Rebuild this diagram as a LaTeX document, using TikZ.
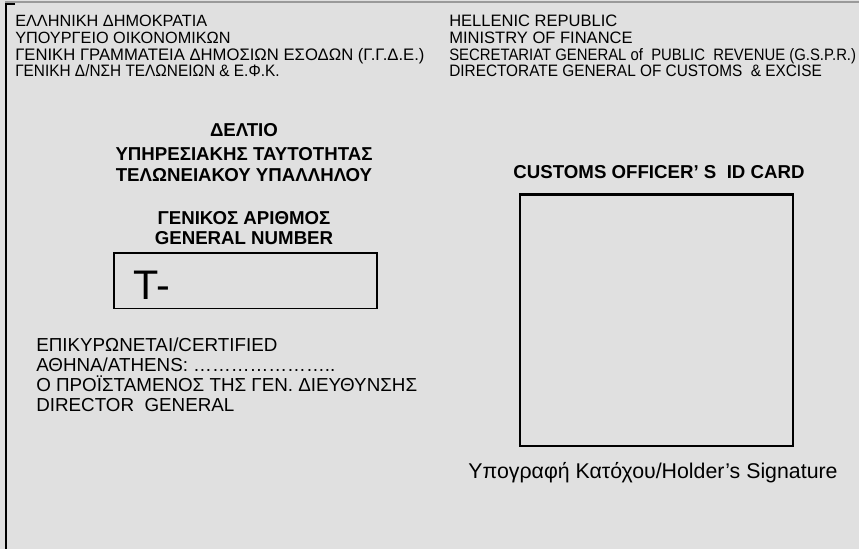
\documentclass[tikz,border=0pt]{standalone}
\usepackage{fontspec}
\setmainfont{Liberation Sans}
\newfontfamily\condsf[FakeStretch=0.93]{Liberation Sans}
\newfontfamily\narrowsf[FakeStretch=0.9]{Liberation Sans}

\definecolor{cardgray}{HTML}{E0E0E0}
\definecolor{edgegray}{HTML}{9A9A9A}

\begin{document}
\begin{tikzpicture}[x=0.75pt,y=0.75pt,yscale=-1,xscale=1,
    hdr/.style={anchor=base west,inner sep=0pt,font=\fontsize{12.4}{14}\selectfont},
    hdrcond/.style={anchor=base west,inner sep=0pt,font=\fontsize{12.4}{14}\condsf},
    ttl/.style={anchor=base,inner sep=0pt,font=\fontsize{14}{16}\selectfont\bfseries},
    body/.style={anchor=base west,inner sep=0pt,font=\fontsize{14.1}{16}\selectfont}]
        \useasboundingbox (0,0) rectangle (859,549);

        %Shape: Background
        \fill [cardgray] (0,0) rectangle (859,549);
        %Straight Lines [top edge]
        \draw [edgegray, line width=1.5]  (5,2) -- (859,2) ;
        %Straight Lines [left edge]
        \draw [line width=1.5]  (15,4.5) -- (5.5,4.5) -- (5.5,549) ;
        %Shape: Rectangle [general number]
        \draw [line width=1.2]  (114,253) -- (377,253) -- (377,308.5) -- (114,308.5) -- cycle ;
        %Shape: Rectangle [photo]
        \draw [line width=1.6]  (520,194.5) -- (793,194.5) -- (793,446) -- (520,446) -- cycle ;

        % Text Node
        \draw (15,27) node [hdr,font=\fontsize{12.2}{14}\selectfont] (grA) {ΕΛΛΗΝΙΚΗ ΔΗΜΟΚΡΑΤΙΑ};
        % Text Node
        \draw (15,44) node [hdr,font=\fontsize{12.2}{14}\selectfont] (grB) {ΥΠΟΥΡΓΕΙΟ ΟΙΚΟΝΟΜΙΚΩΝ};
        % Text Node
        \draw (15,61) node [hdr,font=\fontsize{12.5}{14}\selectfont] (grC) {ΓΕΝΙΚΗ ΓΡΑΜΜΑΤΕΙΑ ΔΗΜΟΣΙΩΝ ΕΣΟΔΩΝ (Γ.Γ.Δ.Ε.)};
        % Text Node
        \draw (15,77) node [hdrcond] (grD) {ΓΕΝΙΚΗ Δ/ΝΣΗ ΤΕΛΩΝΕΙΩΝ \& Ε.Φ.Κ.};
        % Text Node
        \draw (449,27) node [hdr] (enA) {HELLENIC REPUBLIC};
        % Text Node
        \draw (449,44) node [hdr] (enB) {MINISTRY OF FINANCE};
        % Text Node
        \draw (449,61) node [hdr,font=\fontsize{12.4}{14}\narrowsf] (enC) {SECRETARIAT GENERAL of\ \ PUBLIC\ \ REVENUE (G.S.P.R.)};
        % Text Node
        \draw (449,77) node [hdrcond] (enD) {DIRECTORATE GENERAL OF CUSTOMS\ \ \& EXCISE};

        % Text Node
        \draw (244,137) node [ttl] (deltio) {ΔΕΛΤΙΟ};
        % Text Node
        \draw (244,161) node [ttl] (ypires) {ΥΠΗΡΕΣΙΑΚΗΣ ΤΑΥΤΟΤΗΤΑΣ};
        % Text Node
        \draw (244,181) node [ttl] (telon) {ΤΕΛΩΝΕΙΑΚΟΥ ΥΠΑΛΛΗΛΟΥ};
        % Text Node
        \draw (244,224) node [ttl] (genGr) {ΓΕΝΙΚΟΣ ΑΡΙΘΜΟΣ};
        % Text Node
        \draw (244,244) node [ttl] (genEn) {GENERAL NUMBER};
        % Text Node
        \draw (133,299) node [anchor=base west,inner sep=0pt,font=\fontsize{31}{34}\selectfont] (tnum) {T-};
        % Text Node
        \draw (659,178) node [ttl] (cardTitle) {CUSTOMS OFFICER’ S\ \ ID CARD};

        % Text Node
        \draw (36,351) node [body] (certif) {ΕΠΙΚΥΡΩΝΕΤΑΙ/CERTIFIED};
        % Text Node
        \draw (36,371) node [body] (athens) {ΑΘΗΝΑ/ATHENS: {…}{…}{…}{…}{…}{…}{…}..};
        % Text Node
        \draw (36,391) node [body] (proist) {Ο ΠΡΟΪΣΤΑΜΕΝΟΣ ΤΗΣ ΓΕΝ. ΔΙΕΥΘΥΝΣΗΣ};
        % Text Node
        \draw (36,411) node [body] (director) {DIRECTOR\ \ GENERAL};
        % Text Node
        \draw (653,478) node [anchor=base,inner sep=0pt,font=\fontsize{16}{18}\selectfont] (signat) {Υπογραφή Κατόχου/Holder’s Signature};

\end{tikzpicture}
\end{document}
